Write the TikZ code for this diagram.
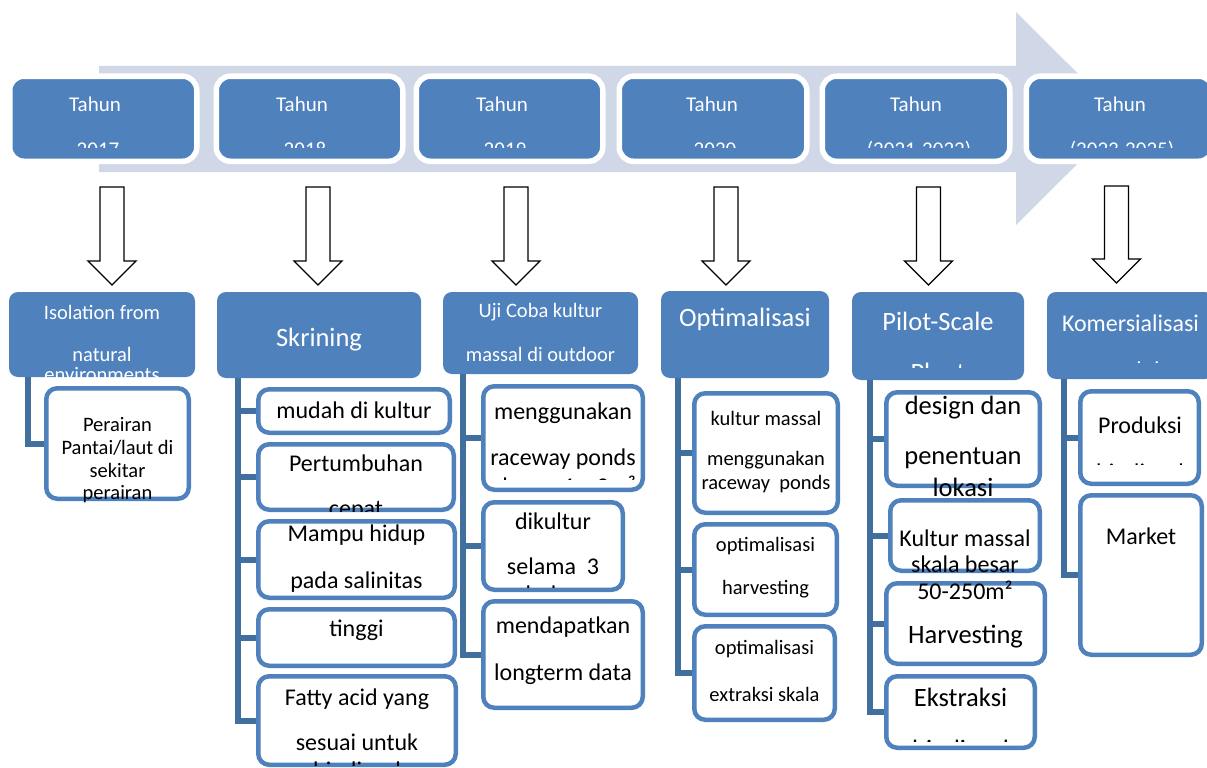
\documentclass[tikz,border=0pt]{standalone}
\usepackage{fontspec}
\setmainfont{Carlito}
\usetikzlibrary{calc}
\definecolor{boxblue}{HTML}{4F81BD}
\definecolor{branchblue}{HTML}{41709F}
\definecolor{arrowbg}{HTML}{D0D8E8}
\tikzset{
  topbox/.style={draw=white, line width=5.5pt, fill=boxblue, rounded corners=14pt, inner sep=0pt, outer sep=0pt},
  headbox/.style={fill=boxblue, rounded corners=9pt, inner sep=0pt, outer sep=0pt},
  subbox/.style={draw=boxblue, line width=4.5pt, fill=white, rounded corners=11pt, inner sep=0pt, outer sep=0pt},
  branchline/.style={draw=branchblue, line width=6pt, line join=miter},
  blockarrow/.style={draw=black, line width=1.3pt, fill=white, line join=miter},
  bgarrow/.style={fill=arrowbg},
  lbl/.style={anchor=base, inner sep=0pt, outer sep=0pt},
}
\newcounter{tn}
\newcommand\tx[5]{\stepcounter{tn}\node[lbl, text=#4, font=\fontsize{#3}{#3}\selectfont] (tn\arabic{tn}) at (#1,#2) {#5};}
\newcommand\cliptx[9]{\begin{scope}\clip (#1,#2) rectangle (#3,#4); \tx{#5}{#6}{#7}{#8}{#9}\end{scope}}
\newcommand\mktop[3]{\node[topbox, minimum width={(#3-#2+5.5)*1pt}, minimum height=85pt] (#1) at ({(#2+#3)/2},118.75) {};}
\newcommand\mkhead[5]{\node[headbox, minimum width={(#4-#2)*1pt}, minimum height={(#5-#3)*1pt}] (#1) at ({(#2+#4)/2},{(#3+#5)/2}) {};}
\newcommand\mksub[5]{\node[subbox, minimum width={(#4-#2-4.5)*1pt}, minimum height={(#5-#3-4.5)*1pt}] (#1) at ({(#2+#4)/2},{(#3+#5)/2}) {};}
\newcommand\blockdown[4]{\draw[blockarrow] ({#1-12},#2) -- ({#1-12},#3) -- ({#1-24},#3) -- (#1,#4) -- ({#1+24},#3) -- ({#1+12},#3) -- ({#1+12},#2) -- cycle;}
\newcommand\branch[2]{\draw[branchline] (#1) |- ([xshift=-2pt]#2.west);}
\begin{document}
\begin{tikzpicture}[x=1pt,y=-1pt]
\useasboundingbox (0,0) rectangle (1207,768);
\clip (0,0) rectangle (1207,768);
\fill[white] (0,0) rectangle (1207,768);
\fill[bgarrow] (99,66) -- (1016,66) -- (1016,12) -- (1123,118.5) -- (1016,225) -- (1016,172) -- (99,172) -- cycle;
% top year boxes
\mktop{Y1}{12.5}{194}
\mktop{Y2}{219}{400}
\mktop{Y3}{419}{600}
\mktop{Y4}{622}{804}
\mktop{Y5}{825}{1007}
\mktop{Y6}{1029}{1210}
\tx{95}{111.7}{21}{white}{Tahun}
\tx{302}{111.7}{21}{white}{Tahun}
\tx{502}{111.7}{21}{white}{Tahun}
\tx{712}{111.7}{21}{white}{Tahun}
\tx{916}{111.7}{21}{white}{Tahun}
\tx{1120}{111.7}{21}{white}{Tahun}
\cliptx{12.5}{80}{194}{147}{98}{156.5}{21}{white}{2017}
\cliptx{219}{80}{400}{147}{305}{156.5}{21}{white}{2018}
\cliptx{419}{80}{600}{147}{505}{156.5}{21}{white}{2019}
\cliptx{622}{80}{804}{147}{715}{156.5}{21}{white}{2020}
\cliptx{825}{80}{1007}{147}{919}{156.5}{21}{white}{(2021-2022)}
\cliptx{1029}{80}{1210}{147}{1122}{156.5}{21}{white}{(2023-2025)}
% block arrows
\blockdown{112}{187}{261}{285}
\blockdown{318}{187}{261}{285}
\blockdown{516}{187}{261}{285}
\blockdown{726}{187}{261}{285}
\blockdown{928.5}{187}{261}{285}
\blockdown{1116.5}{186}{259}{283}
% header boxes
\mkhead{H1}{9}{292}{195}{377}
\mkhead{H2}{217}{292}{421}{378}
\mkhead{H3}{443}{292}{638}{374}
\mkhead{H4}{661}{291}{829}{378}
\mkhead{H5}{852}{292}{1024}{380}
\mkhead{H6}{1047}{292}{1214}{379}
% sub boxes
\mksub{S1a}{44}{386}{191}{501}
\mksub{S2a}{256}{387}{452}{435}
\mksub{S2b}{256}{442}{456}{512}
\mksub{S2c}{256}{519}{457}{600}
\mksub{S2d}{256}{607}{457}{668}
\mksub{S2e}{256}{674}{458}{767}
\mksub{S3a}{481}{384}{645}{492}
\mksub{S3b}{481}{500}{625}{592}
\mksub{S3c}{481}{599}{645}{710}
\mksub{S4a}{692}{391}{840}{515}
\mksub{S4b}{692}{522}{839}{617}
\mksub{S4c}{692}{624}{837}{722}
\mksub{S5a}{884}{390}{1042}{488}
\mksub{S5b}{888}{498}{1042}{573}
\mksub{S5c}{884}{581}{1047}{666}
\mksub{S5d}{884}{674}{1037}{750}
\mksub{S6a}{1078}{389}{1201}{486}
\mksub{S6b}{1078}{493}{1204}{657}
% tree lines
\coordinate (T1) at ($(H1.south west)+(18.5,0)$);
\coordinate (T2) at ($(H2.south west)+(20.5,0)$);
\coordinate (T3) at ($(H3.south west)+(20,0)$);
\coordinate (T4) at ($(H4.south west)+(17,0)$);
\coordinate (T5) at ($(H5.south west)+(17.5,0)$);
\coordinate (T6) at ($(H6.south west)+(16.5,0)$);
\branch{T1}{S1a}
\branch{T2}{S2a}\branch{T2}{S2b}\branch{T2}{S2c}\branch{T2}{S2d}\branch{T2}{S2e}
\branch{T3}{S3a}\branch{T3}{S3b}\branch{T3}{S3c}
\branch{T4}{S4a}\branch{T4}{S4b}\branch{T4}{S4c}
\branch{T5}{S5a}\branch{T5}{S5b}\branch{T5}{S5c}\branch{T5}{S5d}
\branch{T6}{S6a}\branch{T6}{S6b}
% header texts
\tx{102}{319.5}{20.5}{white}{Isolation from}
\tx{102}{361.5}{20.5}{white}{natural}
\cliptx{9}{292}{195}{377}{102}{381.5}{20.5}{white}{environments}
\tx{319}{346}{26.5}{white}{Skrining}
\tx{540.5}{317.7}{20.5}{white}{Uji Coba kultur}
\tx{540.5}{361.7}{20.5}{white}{massal di outdoor}
\tx{745}{326}{26.5}{white}{Optimalisasi}
\tx{938}{330}{26.5}{white}{Pilot-Scale}
\cliptx{852}{292}{1024}{367}{938}{381}{26.5}{white}{Plant}
\tx{1130.5}{331.7}{24}{white}{Komersialisasi}
\cliptx{1047}{292}{1214}{362.7}{1130.5}{378.5}{24}{white}{produk}
% column 1
\tx{117.5}{431}{20.5}{black}{Perairan}
\tx{117.5}{454}{20.5}{black}{Pantai/laut di}
\tx{117.5}{477}{20.5}{black}{sekitar}
\tx{117.5}{499.5}{20.5}{black}{perairan}
% column 2
\tx{354}{418.3}{24}{black}{mudah di kultur}
\tx{356}{471}{24}{black}{Pertumbuhan}
\cliptx{256}{442}{456}{511.5}{356}{516}{24}{black}{cepat}
\tx{356.5}{541.7}{24}{black}{Mampu hidup}
\tx{356.5}{588.3}{24}{black}{pada salinitas}
\tx{356.5}{636.7}{24}{black}{tinggi}
\tx{357}{705}{24}{black}{Fatty acid yang}
\tx{357}{750}{24}{black}{sesuai untuk}
\cliptx{256}{674}{458}{765}{357}{778}{24}{black}{biodiesel}
% column 3
\tx{563}{419}{24}{black}{menggunakan}
\tx{563}{465}{24}{black}{raceway ponds}
\cliptx{481}{384}{645}{479}{563}{494}{24}{black}{ukuran 1 x 3m²}
\tx{553}{529}{24}{black}{dikultur}
\tx{553}{574}{24}{black}{selama\ \ 3}
\cliptx{481}{500}{625}{587}{553}{602}{24}{black}{bulan}
\tx{563}{633.5}{24}{black}{mendapatkan}
\tx{563}{680}{24}{black}{longterm data}
% column 4
\tx{766}{425.5}{20.5}{black}{kultur massal}
\tx{766}{465}{20.5}{black}{menggunakan}
\tx{766}{489}{20.5}{black}{raceway\ \ ponds}
\tx{765.5}{551}{20.5}{black}{optimalisasi}
\tx{765.5}{594}{20.5}{black}{harvesting}
\tx{764.5}{654}{20.5}{black}{optimalisasi}
\tx{764.5}{701}{20.5}{black}{extraksi skala}
% column 5
\tx{963}{414.7}{26.5}{black}{design dan}
\tx{963}{464}{26.5}{black}{penentuan}
\tx{963}{496.7}{26.5}{black}{lokasi}
\tx{965}{546}{24}{black}{Kultur massal}
\tx{965}{572}{24}{black}{skala besar}
\tx{965}{599}{24}{black}{50-250m²}
\tx{965.5}{643.7}{26.5}{black}{Harvesting}
\tx{960.5}{706.7}{26.5}{black}{Ekstraksi}
\cliptx{884}{674}{1037}{741}{960.5}{758.5}{26.5}{black}{biodiesel}
% column 6
\tx{1140}{433}{24}{black}{Produksi}
\cliptx{1078}{389}{1201}{464}{1140}{480}{24}{black}{biodiesel}
\tx{1141}{544}{24}{black}{Market}
\end{tikzpicture}
\end{document}
